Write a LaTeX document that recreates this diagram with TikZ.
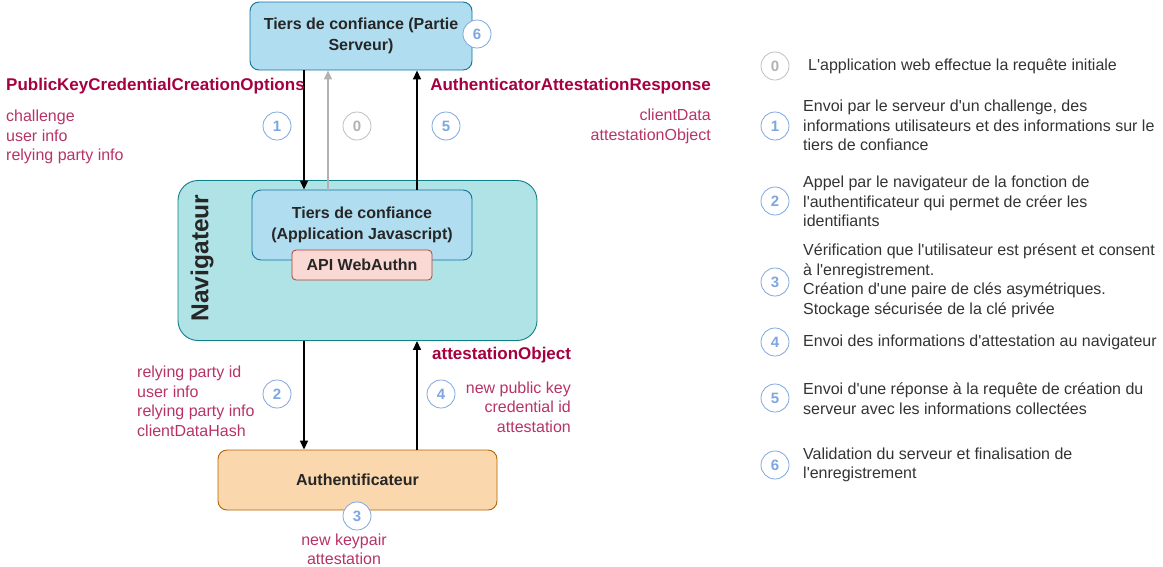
\documentclass[tikz,border=0pt]{standalone}
\usepackage{fontspec}
\setmainfont{Liberation Sans}[Ligatures=TeXOff]
\usetikzlibrary{arrows.meta}
\definecolor{srvfill}{HTML}{B1DDF0}
\definecolor{srvline}{HTML}{10739E}
\definecolor{navfill}{HTML}{B0E3E6}
\definecolor{navline}{HTML}{0E8088}
\definecolor{apifill}{HTML}{FAD9D5}
\definecolor{apiline}{HTML}{AE4132}
\definecolor{authfill}{HTML}{FAD7AC}
\definecolor{authline}{HTML}{B46504}
\definecolor{stepblue}{HTML}{7EA6E0}
\definecolor{msgcol}{HTML}{A50040}
\definecolor{legtext}{HTML}{333333}
\begin{document}
\begin{tikzpicture}[x=1pt,y=-1pt,
            font=\fontsize{16}{19.5}\selectfont,
            box/.style={draw, rounded corners=9pt, line width=0.9pt, align=center,
              text=black!85, font=\fontsize{16}{21}\selectfont\bfseries},
            num/.style={circle, draw=stepblue, fill=white, line width=0.8pt,
              minimum size=28pt, inner sep=0pt, text=stepblue,
              font=\fontsize{15}{15}\selectfont\bfseries},
            numgrey/.style={num, draw=black!25, text=black!30},
            msg/.style={text=msgcol, inner sep=0pt, font=\fontsize{17}{19}\selectfont\bfseries},
            fields/.style={text=msgcol!80, inner sep=0pt, font=\fontsize{16}{19.5}\selectfont},
            flow/.style={-{Triangle[length=9pt,width=8pt]}, line width=1.6pt},
            legtxt/.style={text=legtext, align=left, anchor=west, inner sep=0pt}]
  \useasboundingbox (0,0) rectangle (1163,566);

  % boxes
  \node[box, fill=srvfill, draw=srvline, minimum width=222pt, minimum height=68pt]
    (srv) at (361,36) {Tiers de confiance (Partie\\Serveur)};
  \node[box, fill=navfill, draw=navline, rounded corners=20pt,
    minimum width=359pt, minimum height=160pt] (nav) at (357.5,260.5) {};
  \node[rotate=90, text=black!85, font=\fontsize{24.5}{24.5}\selectfont\bfseries]
    (navlbl) at (202,258) {Navigateur};
  \node[box, fill=srvfill, draw=srvline, minimum width=220pt, minimum height=70pt]
    (app) at (362,225) {Tiers de confiance\\(Application Javascript)};
  \node[box, fill=apifill, draw=apiline, rounded corners=4pt, minimum width=140pt,
    minimum height=30pt, line width=0.8pt] (api) at (362,265) {API WebAuthn};
  \node[box, fill=authfill, draw=authline, minimum width=279pt, minimum height=60pt]
    (auth) at (357.5,480) {Authentificateur};

  % arrows
  \coordinate (colL) at (304,0);
  \coordinate (colG) at (328,0);
  \coordinate (colR) at (417,0);
  \draw[flow] (srv.south -| colL) -- (app.north -| colL);
  \draw[flow, draw=black!30] (app.north -| colG) -- (srv.south -| colG);
  \draw[flow] (app.north -| colR) -- (srv.south -| colR);
  \draw[flow] (nav.south -| colL) -- (auth.north -| colL);
  \draw[flow] (auth.north -| colR) -- (nav.south -| colR);

  % step numbers
  \node[num] (n6) at (477,34) {6};
  \node[num] (n1) at (277,126) {1};
  \node[numgrey] (n0) at (357,126) {0};
  \node[num] (n5) at (446,126) {5};
  \node[num] (n2) at (277,394) {2};
  \node[num] (n4) at (441,394) {4};
  \node[num] (n3) at (357,516) {3};

  % messages
  \node[msg, anchor=west] (optname) at (6,86) {PublicKeyCredentialCreationOptions};
  \node[fields, anchor=west, align=left] (optdata) at (6,137) {challenge\\user info\\relying party info};
  \node[msg, anchor=east] (respname) at (711,86) {AuthenticatorAttestationResponse};
  \node[fields, anchor=east, align=right] (respdata) at (711,126.5) {clientData\\attestationObject};
  \node[fields, anchor=west, align=left] (calldata) at (137,401.5) {relying party id\\user info\\relying party info\\clientDataHash};
  \node[msg, anchor=west] (attname) at (432,355) {attestationObject};
  \node[fields, anchor=east, align=right] (attdata) at (571,407) {new public key\\credential id\\attestation};
  \node[fields, anchor=north, align=center] (keydata) at (344,533.5) {new keypair\\attestation};

  % legend
  \node[numgrey] (l0) at (775,66) {0};
  \node[num] (l1) at (775,126) {1};
  \node[num] (l2) at (775,201) {2};
  \node[num] (l3) at (775,282) {3};
  \node[num] (l4) at (775,342) {4};
  \node[num] (l5) at (775,398) {5};
  \node[num] (l6) at (775,465) {6};
  \node[legtxt] (t0) at (808,66) {L'application web effectue la requête initiale};
  \node[legtxt] (t1) at (803,125.5) {Envoi par le serveur d'un challenge, des\\informations utilisateurs et des informations sur le\\tiers de confiance};
  \node[legtxt] (t2) at (803,201.5) {Appel par le navigateur de la fonction de\\l'authentificateur qui permet de créer les\\identifiants};
  \node[legtxt] (t3) at (803,281) {Vérification que l'utilisateur est présent et consent\\à l'enregistrement.\\Création d'une paire de clés asymétriques.\\Stockage sécurisée de la clé privée};
  \node[legtxt] (t4) at (803,342) {Envoi des informations d'attestation au navigateur};
  \node[legtxt] (t5) at (803,398.5) {Envoi d'une réponse à la requête de création du\\serveur avec les informations collectées};
  \node[legtxt] (t6) at (803,465) {Validation du serveur et finalisation de\\l'enregistrement};
\end{tikzpicture}
\end{document}
